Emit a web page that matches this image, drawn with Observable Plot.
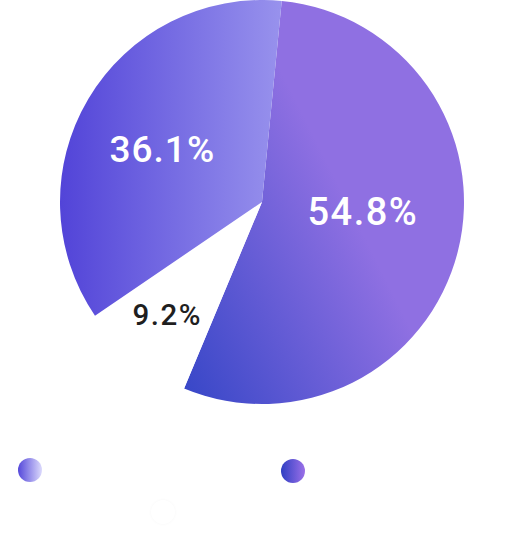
<!DOCTYPE html>
<html>
<head>
<meta charset="utf-8">
<script src="https://cdn.jsdelivr.net/npm/d3@7"></script>
<script src="https://cdn.jsdelivr.net/npm/@observablehq/plot@0.6"></script>
<style>
  html, body { margin: 0; padding: 0; background: #ffffff; }
  #wrap { position: relative; width: 525px; height: 539px; overflow: hidden; font-family: Roboto, "Noto Sans", sans-serif; }
  #chart svg { display: block; }
  #legend { position: relative; width: 525px; height: 119px; }
  .item { position: absolute; display: flex; align-items: center; color: #ffffff; font-size: 16px; white-space: nowrap; }
  .dot { width: 24px; height: 24px; border-radius: 50%; margin-right: 14px; flex: none; }
</style>
</head>
<body>
<div id="wrap">
  <div id="chart"></div>
  <div id="legend"></div>
</div>
<script>
// ---- data ----
const categories = ["Middle Rank", "Junior Rank", "Senior Rank"];
const shares = [54.8, 9.2, 36.1];
const shareLabels = ["54.8%", "9.2%", "36.1%"];
const legendOrder = ["Senior Rank", "Middle Rank", "Junior Rank"];
const legendShares = ["36.1%", "54.8%", "9.2%"];

// ---- style ----
const startDeg = 5.6;
const labelRadius = [0.5, 0.73, 0.56];
const labelShiftDeg = [-8, 1, -3];
const labelColor = ["#ffffff", "#1f1f1f", "#ffffff"];
const labelSize = [38, 29.5, 37];
const labelSpacing = ["1.5px", "1.5px", "1px"];

const rows = categories.map((c, i) => ({category: c, share: shares[i], label: shareLabels[i]}));
const start = startDeg * Math.PI / 180;
const arcs = d3.pie().sort(null).value(d => d.share).startAngle(start).endAngle(start + 2 * Math.PI)(rows);

const labelRows = arcs.map((a, i) => {
  const mid = (a.startAngle + a.endAngle) / 2 + labelShiftDeg[i] * Math.PI / 180;
  return {
    x: labelRadius[i] * Math.sin(mid),
    y: labelRadius[i] * Math.cos(mid),
    label: a.data.label,
    color: labelColor[i],
    size: labelSize[i],
    spacing: labelSpacing[i]
  };
});

function wedges(index, scales, values, dimensions, context) {
  const doc = context.document;
  const ns = "http://www.w3.org/2000/svg";
  const g = doc.createElementNS(ns, "g");
  const cx = scales.x(0), cy = scales.y(0);
  const r = scales.x(1) - scales.x(0);
  const defs = d3.select(g).append("defs");
  const g1 = defs.append("linearGradient").attr("id", "gMid")
    .attr("x1", 0).attr("y1", 1).attr("x2", 0.62).attr("y2", 0.55);
  g1.append("stop").attr("offset", 0).attr("stop-color", "#3646c7");
  g1.append("stop").attr("offset", 1).attr("stop-color", "#8f70e2");
  const g3 = defs.append("linearGradient").attr("id", "gSen")
    .attr("x1", 0).attr("y1", 0).attr("x2", 1).attr("y2", 0);
  g3.append("stop").attr("offset", 0).attr("stop-color", "#5244d8");
  g3.append("stop").attr("offset", 1).attr("stop-color", "#9892ed");
  const fills = ["url(#gMid)", "#ffffff", "url(#gSen)"];
  const arc = d3.arc().innerRadius(0).outerRadius(r);
  d3.select(g).attr("transform", `translate(${cx},${cy})`)
    .selectAll("path").data(arcs).join("path")
    .attr("d", arc)
    .attr("fill", (d, i) => fills[i]);
  return g;
}

const chart = Plot.plot({
  width: 525,
  height: 420,
  margin: 0,
  x: {domain: [-1, 1], range: [60, 464], axis: null},
  y: {domain: [-1, 1], range: [404, 0], axis: null},
  marks: [
    wedges,
    Plot.text(labelRows, {
      x: "x", y: "y", text: "label",
      fill: d => d.color,
      fontSize: d => d.size,
      fontWeight: 500,
      fontFamily: "Roboto",
      textAnchor: "middle"
    })
  ]
});
const texts = chart.querySelectorAll("text");
texts.forEach((t, i) => { if (labelRows[i]) t.style.letterSpacing = labelRows[i].spacing; });
document.getElementById("chart").appendChild(chart);

// ---- legend (HTML) ----
const legend = document.getElementById("legend");
const dotFills = [
  "linear-gradient(to right, #5548da, #dcdafc)",
  "linear-gradient(to right, #2f3fc3, #9b70e8)",
  "#ffffff"
];
const pos = [[18, 50], [281, 51], [151, 92]];
legendOrder.forEach((name, i) => {
  const el = document.createElement("div");
  el.className = "item";
  el.style.left = pos[i][0] + "px";
  el.style.top = (pos[i][1] - 12) + "px";
  const dot = document.createElement("span");
  dot.className = "dot";
  dot.style.background = dotFills[i];
  if (i === 2) dot.style.boxShadow = "0 0 3px rgba(0,0,0,0.04)";
  el.appendChild(dot);
  const t = document.createElement("span");
  t.textContent = `${name}: ${legendShares[i]}`;
  el.appendChild(t);
  legend.appendChild(el);
});
</script>
</body>
</html>
